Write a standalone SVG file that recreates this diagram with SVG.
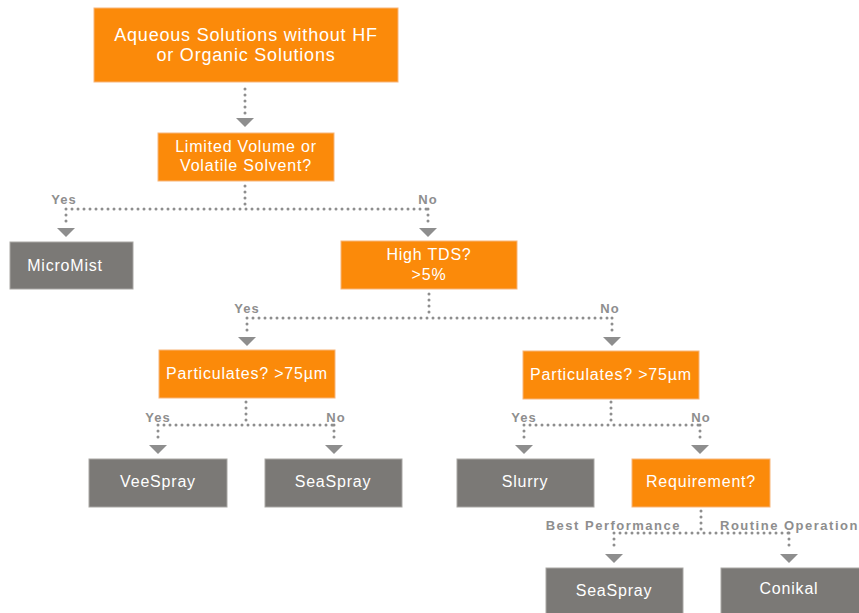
<svg xmlns="http://www.w3.org/2000/svg" width="859" height="613" viewBox="0 0 859 613">
<defs>
<style>
.o{fill:#FB8A0A;stroke:#F7B57A;stroke-width:1}
.g{fill:#7B7976;stroke:#A9A7A4;stroke-width:1}
.t{font-family:"Liberation Sans",Arial,sans-serif;fill:#fff;text-anchor:middle;font-size:16px;letter-spacing:0.8px}
.c{fill:none;stroke:#8E8E8E;stroke-width:3;stroke-linecap:round;stroke-dasharray:0 6}
.a{fill:#8E8E8E}
.l{font-family:"Liberation Sans",Arial,sans-serif;fill:#8E8E8E;font-weight:bold;font-size:13px;letter-spacing:1px}
.w{letter-spacing:1.5px}
</style>
</defs>
<rect width="859" height="613" fill="#fff"/>
<g id="connectors">
<path class="c" d="M245 89V114"/>
<polygon class="a" points="236,118 254,118 245,127"/>
<path class="c" d="M245 186V209M66 209H428M66 209V224M428 209V224"/>
<polygon class="a" points="57,228 75,228 66,237"/>
<polygon class="a" points="419,228 437,228 428,237"/>
<path class="c" d="M429 294V318M247 318H612M247 318V333M612 318V333"/>
<polygon class="a" points="238,337 256,337 247,346"/>
<polygon class="a" points="603,337 621,337 612,346"/>
<path class="c" d="M246 402V425M158 425H334M158 425V441M334 425V441"/>
<polygon class="a" points="149,445 167,445 158,454"/>
<polygon class="a" points="325,445 343,445 334,454"/>
<path class="c" d="M611 402V425M524 425H700M524 425V441M700 425V441"/>
<polygon class="a" points="515,445 533,445 524,454"/>
<polygon class="a" points="691,445 709,445 700,454"/>
<path class="c" d="M701 511V533M614 533H789M614 533V550M789 533V550"/>
<polygon class="a" points="605,554 623,554 614,563"/>
<polygon class="a" points="780,554 798,554 789,563"/>
<text class="l" x="64" y="204" text-anchor="middle">Yes</text>
<text class="l" x="428" y="204" text-anchor="middle">No</text>
<text class="l" x="247" y="313" text-anchor="middle">Yes</text>
<text class="l" x="610" y="313" text-anchor="middle">No</text>
<text class="l" x="158" y="422" text-anchor="middle">Yes</text>
<text class="l" x="336" y="422" text-anchor="middle">No</text>
<text class="l" x="524" y="422" text-anchor="middle">Yes</text>
<text class="l" x="701" y="422" text-anchor="middle">No</text>
<text class="l w" x="681" y="530" text-anchor="end">Best Performance</text>
<text class="l w" x="720" y="530">Routine Operation</text>
</g>
<g id="n1"><rect class="o" x="94" y="8" width="304" height="74"/><text class="t" style="font-size:18px" x="246" y="41">Aqueous Solutions without HF</text><text class="t" style="font-size:18px" x="246" y="61">or Organic Solutions</text></g>
<g id="n2"><rect class="o" x="158" y="133" width="176" height="48"/><text class="t" x="246" y="152">Limited Volume or</text><text class="t" x="246" y="171">Volatile Solvent?</text></g>
<g id="n3"><rect class="g" x="10" y="242" width="123" height="47"/><text class="t" x="65" y="271">MicroMist</text></g>
<g id="n4"><rect class="o" x="341" y="241" width="176" height="48"/><text class="t" x="429" y="260">High TDS?</text><text class="t" x="429" y="280">&gt;5%</text></g>
<g id="n5"><rect class="o" x="159" y="350" width="176" height="48"/><text class="t" x="247" y="379">Particulates? &gt;75µm</text></g>
<g id="n6"><rect class="o" x="523" y="351" width="176" height="48"/><text class="t" x="611" y="380">Particulates? &gt;75µm</text></g>
<g id="n7"><rect class="g" x="89" y="459" width="138" height="48"/><text class="t" x="158" y="487">VeeSpray</text></g>
<g id="n8"><rect class="g" x="265" y="459" width="137" height="48"/><text class="t" x="333" y="487">SeaSpray</text></g>
<g id="n9"><rect class="g" x="457" y="459" width="137" height="48"/><text class="t" x="525" y="487">Slurry</text></g>
<g id="n10"><rect class="o" x="632" y="459" width="138" height="48"/><text class="t" x="701" y="487">Requirement?</text></g>
<g id="n11"><rect class="g" x="546" y="568" width="137" height="50"/><text class="t" x="614" y="596">SeaSpray</text></g>
<g id="n12"><rect class="g" x="721" y="568" width="142" height="50"/><text class="t" x="789" y="594">Conikal</text></g>
</svg>
